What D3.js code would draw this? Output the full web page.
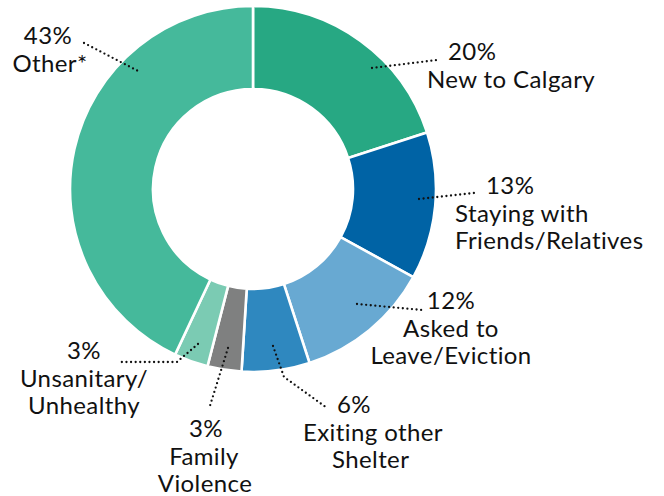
<!DOCTYPE html>
<html>
<head>
<meta charset="utf-8">
<script src="https://cdn.jsdelivr.net/npm/d3@7"></script>
<style>
  html, body { margin: 0; padding: 0; background: #fff; }
  svg text { font-family: Lato, "Open Sans", sans-serif; font-weight: 400; fill: #111; letter-spacing: 0.4px; }
</style>
</head>
<body>
<svg id="chart" width="664" height="496"></svg>
<script>
// ---- data ----
const categories = ["New to Calgary", "Staying with Friends/Relatives", "Asked to Leave/Eviction",
                    "Exiting other Shelter", "Family Violence", "Unsanitary/Unhealthy", "Other*"];
const values = [20, 13, 12, 6, 3, 3, 43];
const percentLabels = ["20%", "13%", "12%", "6%", "3%", "3%", "43%"];
const labelLines = [
  ["New to Calgary"],
  ["Staying with", "Friends/Relatives"],
  ["Asked to", "Leave/Eviction"],
  ["Exiting other", "Shelter"],
  ["Family", "Violence"],
  ["Unsanitary/", "Unhealthy"],
  ["Other*"]
];
const colors = ["#27a883", "#0063a5", "#68a9d2", "#2f88bf", "#7f8080", "#7bcbb3", "#45b99b"];

// ---- layout (annotation placement) ----
const W = 664, H = 496;
const cx = 253, cy = 189, R = 183, r = 100;
const annot = [
  { x: 448, y: 60, anchor: "start", dx: [0, -21], leader: [[372, 68], [437, 60]] },
  { x: 486, y: 194, anchor: "start", dx: [0, -31, -31], leader: [[419, 199], [474, 193]] },
  { x: 451, y: 309, anchor: "middle", dx: [0, 0, 0], leader: [[357, 304], [422, 310]] },
  { x: 337, y: 413, anchor: "start", dx: [0, -34, -5], leader: [[273, 346], [284, 377], [327, 408]] },
  { x: 206, y: 437, anchor: "middle", dx: [0, -2, -1], leader: [[228, 348], [209, 409]] },
  { x: 84, y: 359, anchor: "middle", dx: [0, 0, 0], leader: [[198, 344], [177, 362], [119, 362]] },
  { x: 48, y: 44, anchor: "middle", dx: [0, 2], leader: [[84, 43], [140, 72]] }
];
const lineH = 27.5;

const svg = d3.select("#chart");
const g = svg.append("g").attr("transform", `translate(${cx},${cy})`);

const pie = d3.pie().sort(null).value(d => d)(values);
const arc = d3.arc().innerRadius(r).outerRadius(R);

g.selectAll("path.slice")
  .data(pie)
  .join("path")
  .attr("class", "slice")
  .attr("d", arc)
  .attr("fill", (d, i) => colors[i])
  .attr("stroke", "#fff")
  .attr("stroke-width", 2.6)
  .attr("stroke-linejoin", "miter");

const line = d3.line();
svg.selectAll("path.leader")
  .data(annot)
  .join("path")
  .attr("class", "leader")
  .attr("d", d => line(d.leader))
  .attr("fill", "none")
  .attr("stroke", "#111")
  .attr("stroke-width", 2.3)
  .attr("stroke-linecap", "round")
  .attr("stroke-dasharray", "0,4.6");

annot.forEach((a, i) => {
  const lines = [percentLabels[i]].concat(labelLines[i]);
  const t = svg.append("text")
    .attr("text-anchor", a.anchor)
    .attr("font-size", 24);
  lines.forEach((s, k) => {
    t.append("tspan")
      .attr("x", a.x + (a.dx[k] || 0))
      .attr("y", a.y + k * lineH)
      .text(s);
  });
});
</script>
</body>
</html>
